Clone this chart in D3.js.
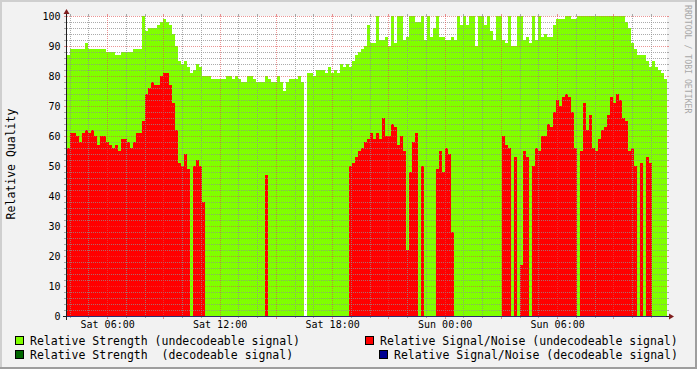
<!DOCTYPE html>
<html><head><meta charset="utf-8">
<script src="https://cdn.jsdelivr.net/npm/d3@7"></script>
<style>
body{margin:0;background:#F2F2F2;}
svg{display:block;}
text{font-family:"DejaVu Sans Mono",monospace;}
</style>
</head><body><svg id="chart" width="697" height="369"></svg>
<script>
// ---------------- data ----------------
const startTime = Date.UTC(2011, 0, 1, 3, 50); // Sat 03:50
const stepSeconds = 576;                        // one sample every 9.6 min

const strengthUndecodeable = [
  87,89,89,89,89,89,91,89,89,89,
  89,89,89,88,88,88,87,87,88,88,
  88,88,89,89,89,100,95,96,96,96,
  97,98,99,98,97,94,90,85,84,85,
  83,81,82,84,83,80,80,80,79,79,
  79,79,79,80,80,79,80,79,78,78,
  80,80,79,78,78,78,80,79,78,78,
  80,78,75,78,79,79,79,80,78,null,
  81,81,80,82,82,82,81,83,81,82,
  81,84,83,84,83,85,87,88,89,90,
  97,91,91,100,92,92,93,90,100,91,
  100,100,92,93,100,100,98,98,100,92,
  100,93,96,100,93,93,92,92,93,92,
  100,97,100,97,100,100,90,100,100,97,
  100,95,92,100,100,92,91,100,90,90,
  100,100,92,93,91,100,92,100,93,94,
  93,93,97,99,99,99,100,100,99,99,
  100,100,100,100,100,100,100,100,100,100,
  100,100,100,100,100,100,98,96,91,89,
  87,87,87,85,83,85,83,82,81,79
];

const snrUndecodeable = [
  56,61,61,60,58,61,62,61,62,60,
  57,60,60,58,57,56,57,55,59,59,
  58,56,58,61,61,65,74,76,78,77,
  77,80,81,81,77,71,62,51,50,54,
  49,0,50,52,50,38,0,0,0,0,
  0,0,0,0,0,0,0,0,0,0,
  0,0,0,0,0,0,47,0,0,0,
  0,0,0,0,0,0,0,0,0,0,
  0,0,0,0,0,0,0,0,0,0,
  0,0,0,0,50,51,53,55,56,58,
  59,61,59,61,59,66,60,60,64,63,
  57,60,55,22,48,58,61,0,50,0,
  0,0,0,49,55,48,56,54,28,0,
  0,0,0,0,0,0,0,0,0,0,
  0,0,0,0,0,60,57,56,0,53,
  0,17,55,53,0,50,56,55,60,60,
  64,63,68,72,70,73,74,73,68,56,
  0,55,71,62,67,56,55,59,62,63,
  67,73,71,74,72,66,65,55,56,50,
  0,51,0,53,51,0,0,0,0,0
];

const strengthDecodeable = []; // no visible samples
const snrDecodeable = [];      // no visible samples

const yTickValues = [0,10,20,30,40,50,60,70,80,90,100];
const yMinorStep = 2;
const xLabelFormat = "%a %H:%M";
const yAxisTitle = "Relative Quality";
const watermark = "RRDTOOL / TOBI OETIKER";
const legendLabels = [
  "Relative Strength (undecodeable signal)",
  "Relative Signal/Noise (undecodeable signal)",
  "Relative Strength  (decodeable signal)",
  "Relative Signal/Noise (decodeable signal)"
];
const colors = {
  strengthU: "#80FF00",
  snrU: "#FF0000",
  strengthD: "#006600",
  snrD: "#000090"
};

// ---------------- layout ----------------
const W = 697, H = 369;
const X0 = 67, X1 = 667, Y0 = 316, Y1 = 16;
const endTime = startTime + strengthUndecodeable.length * stepSeconds * 1000;

const svg = d3.select("#chart");
const x = d3.scaleUtc().domain([new Date(startTime), new Date(endTime)]).range([X0, X1]);
const y = d3.scaleLinear().domain([0, 100]).range([Y0, Y1]);

// background + frame
svg.append("rect").attr("x",0).attr("y",0).attr("width",W).attr("height",H).attr("fill","#F2F2F2");
svg.append("path").attr("d",`M0,0H${W}V2H2V${H}H0Z`).attr("fill","#CFCFCF");
svg.append("path").attr("d",`M${W},${H}H0V${H-2}H${W-2}V0H${W}Z`).attr("fill","#9E9E9E");

// canvas
svg.append("rect").attr("x",X0).attr("y",Y1).attr("width",X1-X0).attr("height",Y0-Y1).attr("fill","#FFFFFF");

// series areas (step)
function stepPoints(values){
  const pts = [];
  values.forEach((v,i)=>{
    const t0 = new Date(startTime + i*stepSeconds*1000);
    const t1 = new Date(startTime + (i+1)*stepSeconds*1000);
    pts.push({t:t0, v:v}, {t:t1, v:v});
  });
  return pts;
}
const area = d3.area()
  .defined(d => d.v != null)
  .x(d => x(d.t))
  .y0(y(0))
  .y1(d => y(d.v));

[[strengthUndecodeable, colors.strengthU],
 [snrUndecodeable, colors.snrU],
 [strengthDecodeable, colors.strengthD],
 [snrDecodeable, colors.snrD]].forEach(([vals,col])=>{
  if (!vals.length) return;
  svg.append("path").attr("d", area(stepPoints(vals))).attr("fill", col).attr("shape-rendering","crispEdges");
});

// grid
const gridG = svg.append("g").attr("shape-rendering","crispEdges");
const minorCol = "rgba(143,143,143,0.75)";
const majorCol = "rgba(222,79,79,0.6)";

// horizontal
d3.range(0, 100 + 1e-9, yMinorStep).forEach(v=>{
  const yy = Math.round(y(v)) + 0.5;
  const major = yTickValues.includes(v);
  const col = major ? majorCol : minorCol;
  if (v !== 0) {
    gridG.append("line").attr("x1",X0).attr("x2",X1).attr("y1",yy).attr("y2",yy)
      .attr("stroke",col).attr("stroke-dasharray","1,1");
  }
  gridG.append("line").attr("x1",X0-3).attr("x2",X0).attr("y1",yy).attr("y2",yy).attr("stroke",col);
  gridG.append("line").attr("x1",X1).attr("x2",X1+2).attr("y1",yy).attr("y2",yy).attr("stroke",col);
});

// vertical
const hours = d3.utcHour.every(1).range(new Date(startTime), new Date(endTime));
hours.forEach(t=>{
  const xx = Math.floor(x(t)) + 0.5;
  const major = t.getUTCHours() % 3 === 0;
  const col = major ? majorCol : minorCol;
  gridG.append("line").attr("x1",xx).attr("x2",xx).attr("y1",Y1).attr("y2",Y0)
    .attr("stroke",col).attr("stroke-dasharray","1,1");
  gridG.append("line").attr("x1",xx).attr("x2",xx).attr("y1",Y0).attr("y2",Y0+(major?3:2)).attr("stroke",col);
  gridG.append("line").attr("x1",xx).attr("x2",xx).attr("y1",Y1-2).attr("y2",Y1).attr("stroke",col);
});

// axes
const axG = svg.append("g").attr("shape-rendering","crispEdges");
axG.append("line").attr("x1",X0-4).attr("x2",X1+4).attr("y1",Y0+0.5).attr("y2",Y0+0.5).attr("stroke","#1F1F1F");
axG.append("line").attr("x1",X0).attr("x2",X1-1).attr("y1",Y0+0.5).attr("y2",Y0+0.5).attr("stroke","#2a2a70");
axG.append("line").attr("x1",X0-0.5).attr("x2",X0-0.5).attr("y1",Y0+4).attr("y2",Y1-4).attr("stroke","#1F1F1F");
svg.append("path").attr("d",`M${X1+2},${Y0+0.5-3}L${X1+2},${Y0+0.5+3}L${X1+7},${Y0+0.5}Z`).attr("fill","#801F1F");
svg.append("path").attr("d",`M${X0-0.5-3},${Y1-2}L${X0-0.5+3},${Y1-2}L${X0-0.5},${Y1-7}Z`).attr("fill","#801F1F");

// y labels
svg.append("g").selectAll("text").data(yTickValues).join("text")
  .attr("x", 60.5).attr("y", d => y(d) + 3.6)
  .attr("text-anchor","end").attr("font-size","10px").attr("fill","#000")
  .text(d => d);

// x labels
const fmt = d3.utcFormat(xLabelFormat);
const labelTimes = d3.utcHour.every(6).range(new Date(startTime), new Date(endTime));
svg.append("g").selectAll("text").data(labelTimes).join("text")
  .attr("x", d => x(d)).attr("y", 328)
  .attr("text-anchor","middle").attr("font-size","10px").attr("fill","#000")
  .text(d => fmt(d));

// y axis title
svg.append("text").attr("transform","translate(15,164) rotate(-90)")
  .attr("text-anchor","middle").attr("font-size","11.5px").attr("fill","#000")
  .text(yAxisTitle);

// watermark
svg.append("text").attr("transform","translate(685,5) rotate(90)")
  .attr("text-anchor","start").attr("font-size","8.2px").attr("fill","#A8A8A8")
  .text(watermark);

// legend
const legendPos = [
  {sx:15.5, sy:336.5, tx:30, ty:345},
  {sx:365.5, sy:336.5, tx:380, ty:345},
  {sx:15.5, sy:350.5, tx:30, ty:359},
  {sx:379.5, sy:350.5, tx:394, ty:359}
];
const legendColors = [colors.strengthU, colors.snrU, colors.strengthD, colors.snrD];
legendLabels.forEach((lab,i)=>{
  const p = legendPos[i];
  svg.append("rect").attr("x",p.sx).attr("y",p.sy).attr("width",8).attr("height",8)
    .attr("fill",legendColors[i]).attr("stroke","#000").attr("stroke-width",1);
  svg.append("text").attr("x",p.tx).attr("y",p.ty).attr("font-size","11.5px").attr("fill","#000")
    .attr("xml:space","preserve").style("white-space","pre").text(lab);
});
</script>
</body></html>
